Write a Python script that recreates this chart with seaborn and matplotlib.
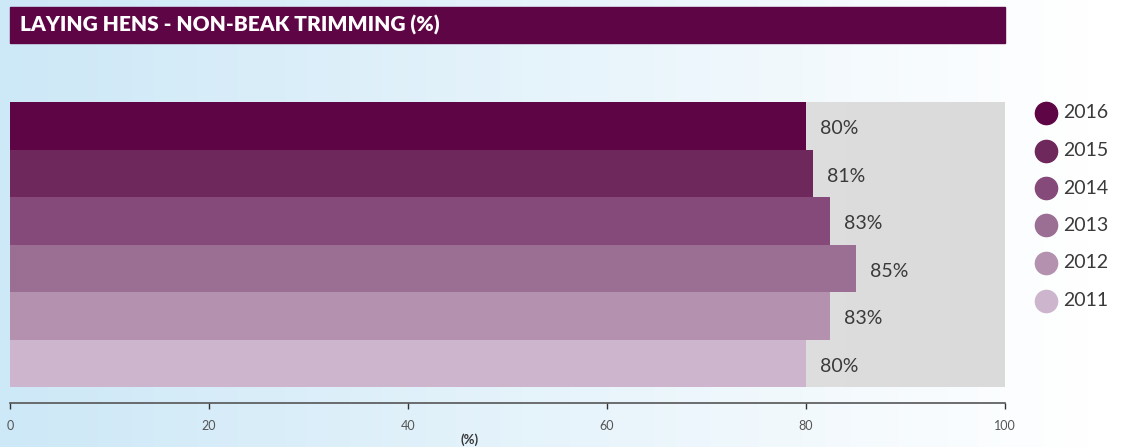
import numpy as np
import pandas as pd
import matplotlib
matplotlib.use("Agg")
import matplotlib.pyplot as plt
from matplotlib.lines import Line2D
import seaborn as sns

years = ["2016", "2015", "2014", "2013", "2012", "2011"]
values = [80.0, 80.7, 82.4, 85.0, 82.4, 80.0]
labels = ["80%", "81%", "83%", "85%", "83%", "80%"]
colors = ["#5e0645", "#6e285c", "#854a79", "#9b6f93", "#b391af", "#cdb6cd"]
xticks = [0, 20, 40, 60, 80, 100]
title = "LAYING HENS - NON-BEAK TRIMMING (%)"
xlabel = "(%)"

sns.set_theme(style="white")
plt.rcParams["font.family"] = ["Lato", "DejaVu Sans"]

W, H = 1123, 447
fig = plt.figure(figsize=(W / 100, H / 100), dpi=100)

# background gradient
bg = fig.add_axes([0, 0, 1, 1], zorder=-10)
g = np.linspace(0, 1, 256)
c0 = np.array([205, 232, 247]) / 255
c1 = np.array([255, 255, 255]) / 255
t = np.clip(g / 0.97, 0, 1)[None, :, None]
grad = c0 * (1 - t) + c1 * t
bg.imshow(grad, aspect="auto", extent=(0, 1, 0, 1))
bg.set_axis_off()

# title bar
fig.patches.append(plt.Rectangle((10 / W, 1 - 43 / H), 995 / W, 36 / H,
                                 transform=fig.transFigure, color="#5e0645", zorder=1))
fig.text(20 / W, 1 - 25 / H, title, color="white", fontsize=15, fontweight="heavy",
         va="center", ha="left")

ax = fig.add_axes([10 / W, 44 / H, 995 / W, (403 - 102) / H])
ax.patch.set_alpha(0)
df = pd.DataFrame({"year": years, "value": values})

# gray band
band = np.linspace(0, 1, 256)[None, :, None]
gc0 = np.array([237, 237, 237]) / 255
gc1 = np.array([218, 218, 218]) / 255
ax.imshow(gc0 * (1 - band) + gc1 * band, aspect="auto",
          extent=(0, 100, 5.5, -0.5), zorder=0)

sns.barplot(data=df, y="year", x="value", hue="year", palette=colors,
            order=years, hue_order=years, width=1.0, legend=False,
            orient="h", ax=ax, zorder=2, linewidth=0, saturation=1)

for i, (v, lab) in enumerate(zip(values, labels)):
    ax.text(v + 1.4, i + 0.06, lab, va="center", ha="left", fontsize=14,
            color="#3a3a3a", zorder=3)

unit_px = (387 - 102) / 6
ax.set_ylim(5.5 + 16 / unit_px, -0.5)
ax.set_xlim(0, 100)
ax.set_xticks(xticks)
ax.set_xticklabels([str(x) for x in xticks])
ax.set_yticks([])
ax.set_ylabel("")
ax.set_xlabel(xlabel, fontsize=9.5, fontweight="bold", color="#333333")
ax.xaxis.set_label_coords((470 - 10) / 995, -(440 - 403) / (403 - 102))
ax.xaxis.label.set_va("center")
for s in ["top", "right", "left"]:
    ax.spines[s].set_visible(False)
ax.spines["bottom"].set_color("#555555")
ax.spines["bottom"].set_linewidth(1.2)
ax.tick_params(axis="x", direction="out", length=4, width=1, color="#333333",
               labelsize=9, labelcolor="#555555", pad=8, bottom=True)

# legend
for i, (yr, c) in enumerate(zip(years, colors)):
    yy = 1 - (113 + i * 37.5) / H
    fig.add_artist(Line2D([1046 / W], [yy], marker="o", markersize=16,
                          color=c, linestyle="none", transform=fig.transFigure))
    fig.text(1063 / W, yy, yr, fontsize=14, color="#3a3a3a",
             va="center", ha="left")

fig.savefig("out.png", dpi=100)
